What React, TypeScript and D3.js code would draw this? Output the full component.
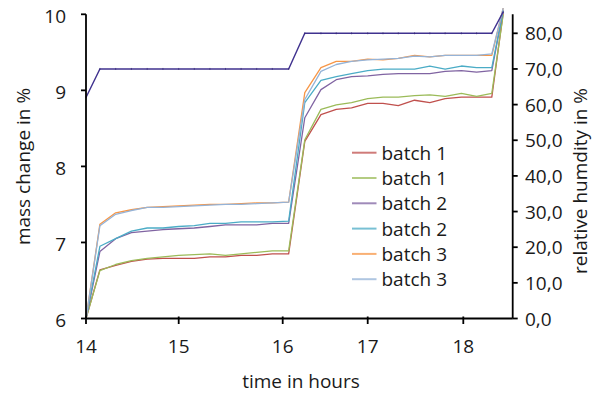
import React from "react";
import * as d3 from "d3";

const times = [14.0, 14.15, 14.32, 14.49, 14.66, 14.83, 15.0, 15.15, 15.3, 15.45, 15.6, 15.75, 15.9, 16.07, 16.26, 16.45, 16.63, 16.81, 17.0, 17.16, 17.32, 17.49, 17.65, 17.81, 17.98, 18.14, 18.3, 18.42];

const batch1a = [6.0, 6.64, 6.7, 6.75, 6.78, 6.79, 6.79, 6.79, 6.81, 6.81, 6.83, 6.83, 6.85, 6.85, 8.33, 8.68, 8.75, 8.77, 8.83, 8.83, 8.8, 8.87, 8.84, 8.89, 8.91, 8.91, 8.91, 10.02];
const batch1b = [6.0, 6.63, 6.71, 6.76, 6.79, 6.81, 6.83, 6.84, 6.85, 6.83, 6.85, 6.87, 6.89, 6.89, 8.35, 8.75, 8.81, 8.84, 8.89, 8.91, 8.91, 8.93, 8.94, 8.92, 8.96, 8.92, 8.96, 10.0];
const batch2a = [6.0, 6.88, 7.05, 7.13, 7.15, 7.17, 7.18, 7.19, 7.21, 7.23, 7.23, 7.23, 7.25, 7.25, 8.64, 9.01, 9.14, 9.18, 9.19, 9.21, 9.22, 9.22, 9.22, 9.25, 9.26, 9.24, 9.26, 10.05];
const batch2b = [6.0, 6.95, 7.05, 7.15, 7.19, 7.19, 7.21, 7.22, 7.25, 7.25, 7.27, 7.27, 7.27, 7.28, 8.84, 9.13, 9.18, 9.22, 9.26, 9.28, 9.28, 9.28, 9.32, 9.28, 9.32, 9.3, 9.3, 10.05];
const batch3a = [6.0, 7.24, 7.39, 7.43, 7.46, 7.47, 7.48, 7.49, 7.5, 7.5, 7.51, 7.52, 7.52, 7.53, 8.97, 9.3, 9.38, 9.38, 9.41, 9.4, 9.42, 9.46, 9.44, 9.46, 9.46, 9.46, 9.46, 10.08];
const batch3b = [6.0, 7.22, 7.37, 7.42, 7.46, 7.46, 7.47, 7.48, 7.49, 7.5, 7.5, 7.51, 7.52, 7.53, 8.88, 9.25, 9.34, 9.38, 9.4, 9.41, 9.42, 9.45, 9.44, 9.46, 9.46, 9.46, 9.48, 10.08];
const humidity = [62, 70, 70, 70, 70, 70, 70, 70, 70, 70, 70, 70, 70, 70, 80, 80, 80, 80, 80, 80, 80, 80, 80, 80, 80, 80, 80, 86];

const seriesNames = ["batch 1", "batch 1", "batch 2", "batch 2", "batch 3", "batch 3"];
const seriesColors = ["#C0504D", "#9BBB59", "#8064A2", "#4BACC6", "#F79646", "#95B3D7"];
const seriesData = [batch1a, batch1b, batch2a, batch2b, batch3a, batch3b];

const xTicks = [14, 15, 16, 17, 18];
const yLeftTicks = [6, 7, 8, 9, 10];
const yRightTicks = [0, 10, 20, 30, 40, 50, 60, 70, 80];

const FONT = "'Open Sans', 'Noto Sans', sans-serif";

export default function App() {
  const left = 86, right = 512.7, top = 14.3, bottom = 318.5;
  const x = d3.scaleLinear().domain([14, 15, 16, 17, 18, 18.52]).range([86, 178.7, 282.7, 367.7, 463.3, right]);
  const y = d3.scaleLinear().domain([6, 10]).range([bottom, top]);
  const y2 = d3.scaleLinear().domain([0, 85.33]).range([bottom, top]);

  const line = d3.line<number>().x((_, i) => x(times[i])).y((d) => y(d));
  const line2 = d3.line<number>().x((_, i) => x(times[i])).y((d) => y2(d));

  return (
    <svg width={594} height={393} style={{ position: "absolute", left: 0, top: 0, background: "#fff" }} fontFamily={FONT}>
      {seriesData.map((s, k) => (
        <path key={k} d={line(s) || ""} fill="none" stroke={seriesColors[k]} strokeWidth={1.3} strokeLinejoin="round" />
      ))}
      <path d={line2(humidity) || ""} fill="none" stroke="#40328F" strokeWidth={1.4} />
      {humidity.map((h, i) => (
        <line key={i} x1={x(times[i])} x2={x(times[i])} y1={y2(h) - 1} y2={y2(h) + 1} stroke="#2E2270" strokeWidth={1} opacity={0.6} />
      ))}

      {/* left axis */}
      <line x1={left} x2={left} y1={top} y2={bottom} stroke="#000" strokeWidth={1.8} />
      {yLeftTicks.map((t) => (
        <g key={t}>
          <line x1={left - 5} x2={left} y1={y(t)} y2={y(t)} stroke="#000" strokeWidth={1.8} />
          <text x={66} y={y(t) + 8.5} textAnchor="end" fontSize={19} fill="#1a1a1a">{t}</text>
        </g>
      ))}
      {/* right axis */}
      <line x1={right} x2={right} y1={top} y2={bottom} stroke="#000" strokeWidth={1.8} />
      {yRightTicks.map((t) => (
        <g key={t}>
          <line x1={right} x2={right + 5} y1={y2(t)} y2={y2(t)} stroke="#000" strokeWidth={1.8} />
          <text x={525} y={y2(t) + 7} textAnchor="start" fontSize={19} fill="#1a1a1a">{d3.format(".1f")(t).replace(".", ",")}</text>
        </g>
      ))}
      {/* bottom axis */}
      <line x1={left} x2={right} y1={bottom} y2={bottom} stroke="#000" strokeWidth={1.8} />
      {xTicks.map((t) => (
        <g key={t}>
          <line x1={x(t)} x2={x(t)} y1={bottom - 2} y2={bottom + 5.5} stroke="#000" strokeWidth={1.8} />
          <text x={x(t)} y={353} textAnchor="middle" fontSize={19} fill="#1a1a1a">{t}</text>
        </g>
      ))}

      {/* legend */}
      {seriesNames.map((n, k) => (
        <g key={k}>
          <line x1={352} x2={376.5} y1={152.7 + k * 25.3} y2={152.7 + k * 25.3} stroke={seriesColors[k]} strokeWidth={2} opacity={0.75} />
          <text x={381.5} y={152.7 + k * 25.3 + 7} fontSize={19} fill="#1a1a1a">{n}</text>
        </g>
      ))}

      {/* axis titles */}
      <text transform="translate(30,166.5) rotate(-90)" textAnchor="middle" fontSize={19} fill="#1a1a1a">mass change in %</text>
      <text transform="translate(587,181) rotate(-90)" textAnchor="middle" fontSize={19} fill="#1a1a1a">relative humdity in %</text>
      <text x={301} y={388} textAnchor="middle" fontSize={19} fill="#1a1a1a">time in hours</text>
    </svg>
  );
}
